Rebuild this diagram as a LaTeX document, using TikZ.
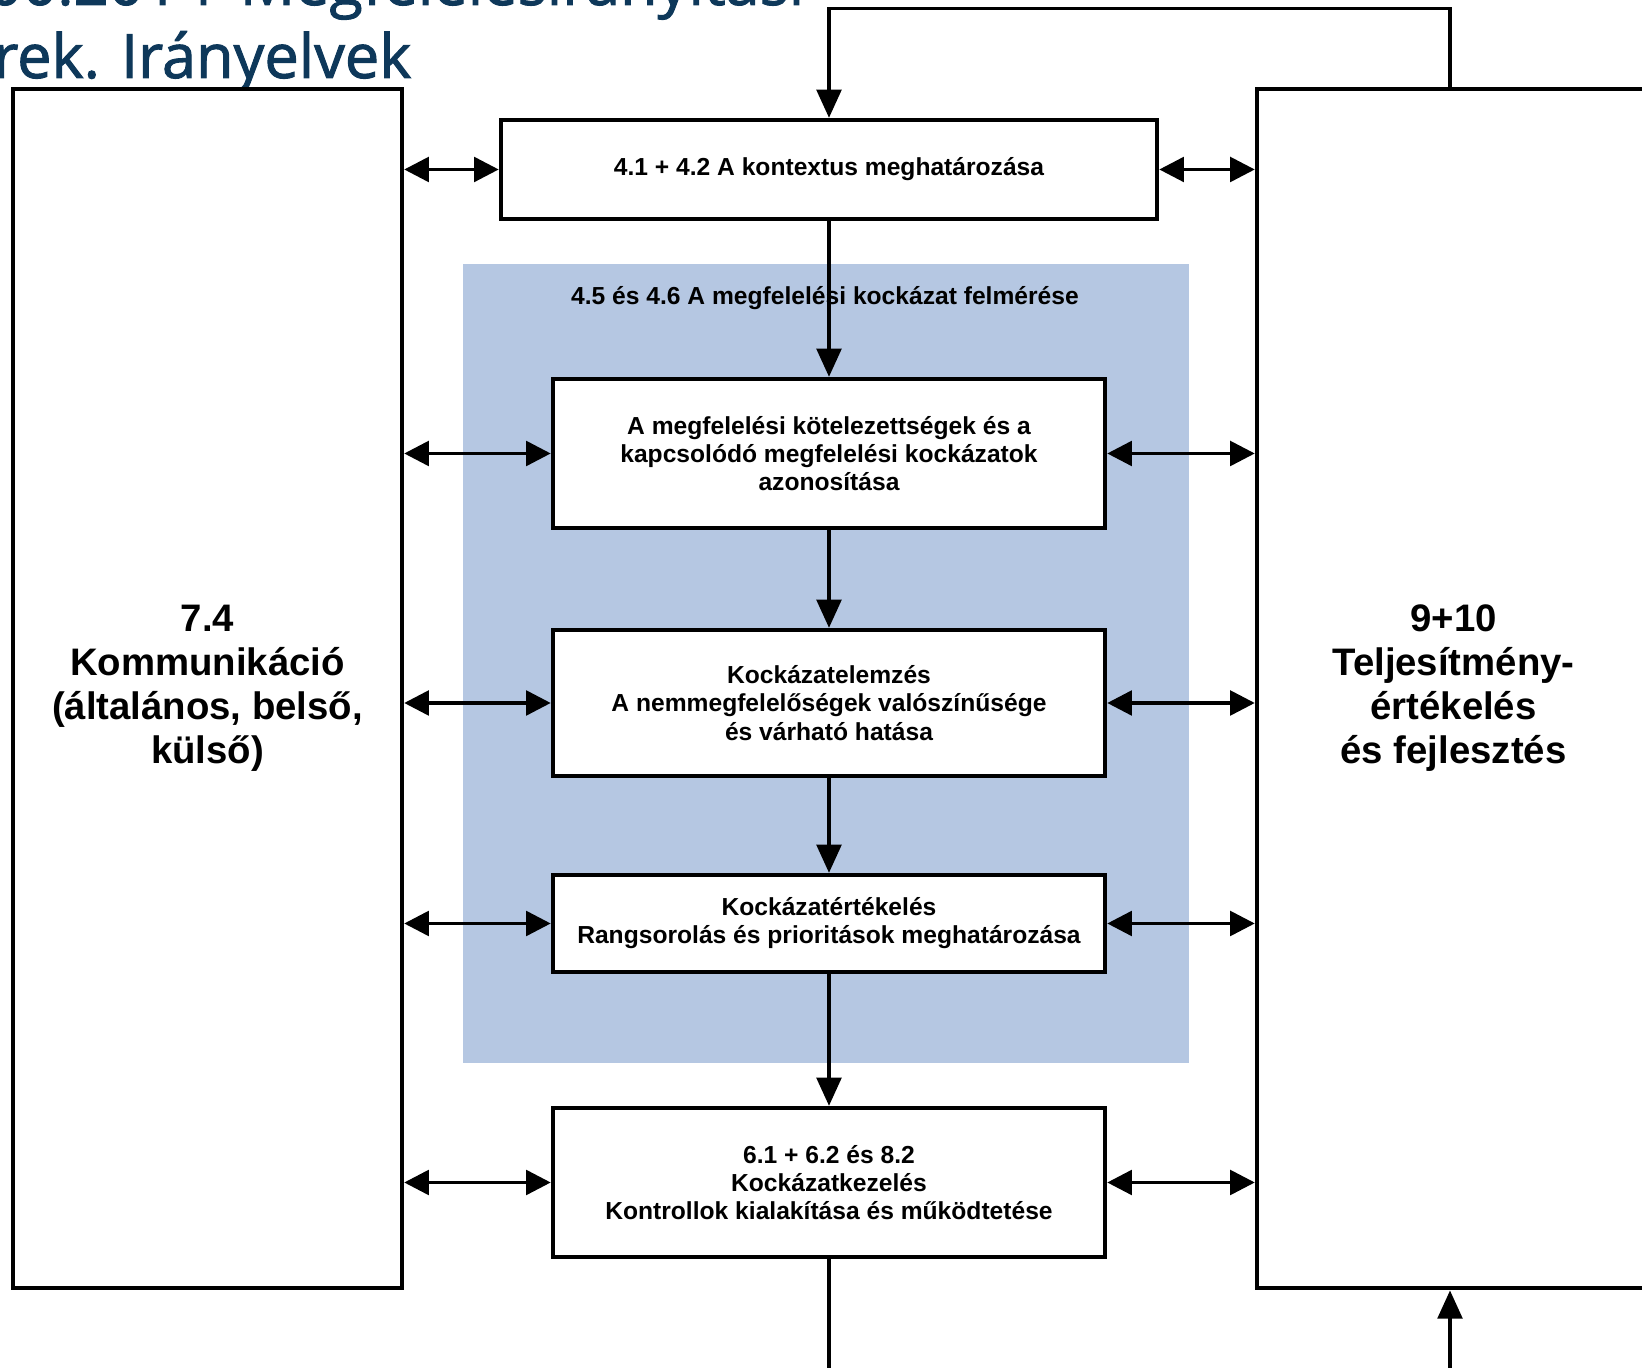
\documentclass[tikz,border=0pt]{standalone}
\usepackage{fontspec}
\setmainfont{Liberation Sans}
\newfontfamily\titlefont[FakeBold=1.6]{Open Sans}
\usetikzlibrary{arrows.meta}
\definecolor{titleblue}{RGB}{14,56,90}
\definecolor{assessblue}{RGB}{181,199,226}
\tikzset{
  box/.style={draw,line width=1.2pt,fill=white,inner sep=0pt,align=center,minimum width=5.52cm,font=\bfseries\fontsize{7}{8}\selectfont},
  sidebox/.style={draw,line width=1.2pt,fill=white,inner sep=0pt,align=center,minimum height=11.99cm,font=\bfseries\fontsize{10.9}{12.5}\selectfont},
  titletext/.style={inner sep=0pt,text=titleblue,font=\titlefont\fontsize{17.4}{20}\selectfont},
  flow/.style={line width=1pt,-{Triangle[length=8pt,width=7pt]}},
  link/.style={line width=1pt,{Triangle[length=7pt,width=7pt]}-{Triangle[length=7pt,width=7pt]}}
}

\begin{document}
\begin{tikzpicture}[x=0.01cm,y=-0.01cm]
\useasboundingbox (0,0) rectangle (1642,1368);
\clip (0,0) rectangle (1642,1368);
\node[titletext,anchor=base east] (title2) at (412,78) {rendszerek. Irányelvek};
\node[titletext,anchor=base west] (title1) at ([yshift=0.73cm]title2.base west) {ISO 19600:2014 \,Megfelelésirányítási};
\fill[assessblue] (463,264) rectangle (1189,1063);
\node[inner sep=0pt,font=\bfseries\fontsize{7}{8}\selectfont] (assess) at (825,298) {4.5 és 4.6 A megfelelési kockázat felmérése};
\node[sidebox,minimum width=3.89cm] (comm) at (207.5,688.5) {7.4\\Kommunikáció\\(általános, belső,\\külső)};
\node[sidebox,minimum width=3.93cm] (perf) at (1453.5,688.5) {9+10\\Teljesítmény-\\értékelés\\és fejlesztés};
\node[box,minimum width=6.56cm,minimum height=0.99cm] (ctx) at (829,169.5) {4.1 + 4.2 A kontextus meghatározása};
\node[box,minimum height=1.49cm] (ident) at (829,453.5) {A megfelelési kötelezettségek és a\\kapcsolódó megfelelési kockázatok\\azonosítása};
\node[box,minimum height=1.46cm] (analysis) at (829,703) {Kockázatelemzés\\A nemmegfelelőségek valószínűsége\\és várható hatása};
\node[box,minimum height=0.97cm] (evalu) at (829,923.5) {Kockázatértékelés\\Rangsorolás és prioritások meghatározása};
\node[box,minimum height=1.49cm] (treat) at (829,1182.5) {6.1 + 6.2 és 8.2\\Kockázatkezelés\\Kontrollok kialakítása és működtetése};
\coordinate (fbtop) at (1450,8.4);
\coordinate (outbot) at (829,1380);
\coordinate (inbot) at (1450,1380);
\draw[flow] (perf.north -| fbtop) -- (fbtop) -| (ctx.north);
\draw[flow] (ctx) -- (ident);
\draw[flow] (ident) -- (analysis);
\draw[flow] (analysis) -- (evalu);
\draw[flow] (evalu) -- (treat);
\draw[line width=1pt] (treat) -- (outbot);
\draw[flow] (inbot) -- (perf.south -| inbot);
\foreach \n in {ctx,ident,analysis,evalu,treat} {
  \draw[link] (comm.east |- \n.west) -- (\n.west);
  \draw[link] (\n.east) -- (perf.west |- \n.east);
}
\end{tikzpicture}
\end{document}
